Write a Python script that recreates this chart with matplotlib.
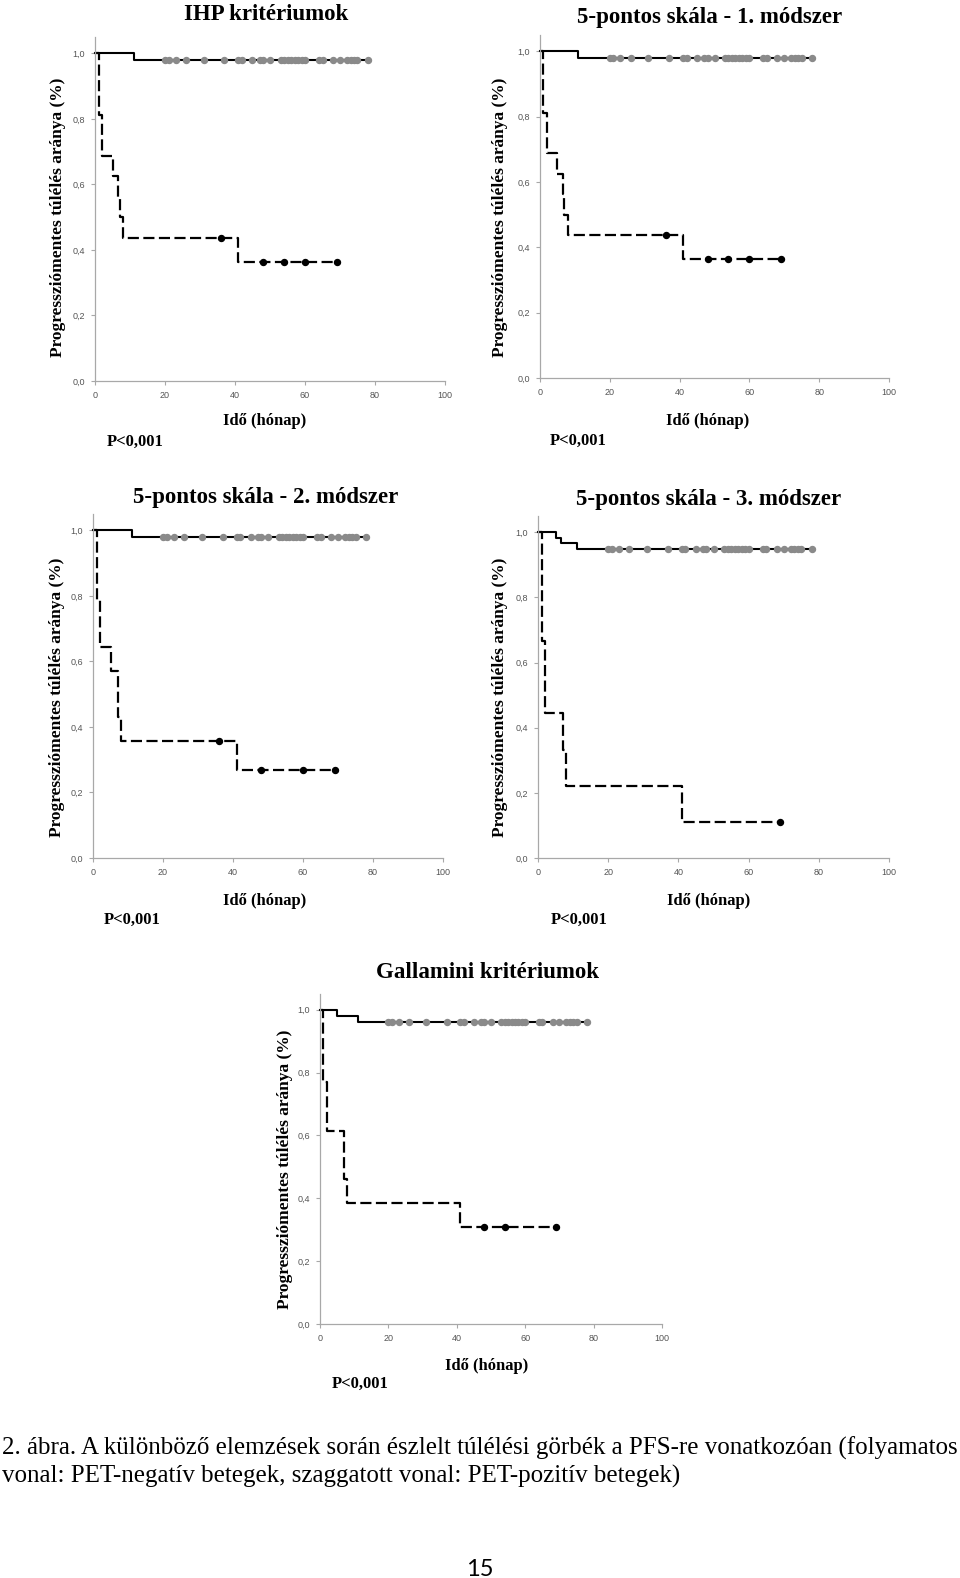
import matplotlib
matplotlib.use("Agg")
import matplotlib.pyplot as plt
import numpy as np

W, H = 960, 1578

x_ticks = [0, 20, 40, 60, 80, 100]
y_ticks = [0.0, 0.2, 0.4, 0.6, 0.8, 1.0]
y_ticklabels = ["0,0", "0,2", "0,4", "0,6", "0,8", "1,0"]

# censored times of PET-negative patients (gray circles), same in every panel
neg_censor = [20, 21, 23, 26, 31, 37, 41, 42, 45, 47, 48, 50, 53, 54, 55, 56,
              57, 58, 59, 60, 64, 65, 68, 70, 72, 73, 74, 75, 78]
neg_end = 78
pos_end = 69

# IHP kritériumok
ihp_neg_t = [0, 11]
ihp_neg_s = [1.0, 0.979]
ihp_pos_t = [0, 1, 2, 5, 6.5, 7, 8, 41]
ihp_pos_s = [1.0, 0.8125, 0.6875, 0.625, 0.5625, 0.5, 0.4375, 0.3646]
ihp_pos_cens = [36, 48, 54, 60, 69]

# 5-pontos skála - 1. módszer
m1_neg_t = [0, 11]
m1_neg_s = [1.0, 0.979]
m1_pos_t = [0, 1, 2, 5, 6.5, 7, 8, 41]
m1_pos_s = [1.0, 0.8125, 0.6875, 0.625, 0.5625, 0.5, 0.4375, 0.3646]
m1_pos_cens = [36, 48, 54, 60, 69]

# 5-pontos skála - 2. módszer
m2_neg_t = [0, 11]
m2_neg_s = [1.0, 0.979]
m2_pos_t = [0, 1, 2, 5, 7, 8, 41]
m2_pos_s = [1.0, 0.786, 0.643, 0.571, 0.429, 0.357, 0.268]
m2_pos_cens = [36, 48, 60, 69]

# 5-pontos skála - 3. módszer
m3_neg_t = [0, 5, 6.5, 11]
m3_neg_s = [1.0, 0.983, 0.966, 0.948]
m3_pos_t = [0, 1, 2, 7, 8, 41]
m3_pos_s = [1.0, 0.667, 0.444, 0.333, 0.222, 0.111]
m3_pos_cens = [69]

# Gallamini kritériumok
gal_neg_t = [0, 5, 11]
gal_neg_s = [1.0, 0.981, 0.962]
gal_pos_t = [0, 1, 2, 7, 8, 41]
gal_pos_s = [1.0, 0.769, 0.615, 0.462, 0.385, 0.308]
gal_pos_cens = [48, 54, 69]

titles = ["IHP kritériumok", "5-pontos skála - 1. módszer",
          "5-pontos skála - 2. módszer", "5-pontos skála - 3. módszer",
          "Gallamini kritériumok"]

panels = [
    (ihp_neg_t, ihp_neg_s, ihp_pos_t, ihp_pos_s, ihp_pos_cens),
    (m1_neg_t, m1_neg_s, m1_pos_t, m1_pos_s, m1_pos_cens),
    (m2_neg_t, m2_neg_s, m2_pos_t, m2_pos_s, m2_pos_cens),
    (m3_neg_t, m3_neg_s, m3_pos_t, m3_pos_s, m3_pos_cens),
    (gal_neg_t, gal_neg_s, gal_pos_t, gal_pos_s, gal_pos_cens),
]

# layout in pixels: axes box (x0, x1, y_top, y_zero), title, xlabel, ylabel, p-value centres
boxes = [(95, 445, 37, 381), (540, 889, 35, 378), (93, 443, 514, 858),
         (538, 889, 516, 858), (320, 662, 994, 1324)]
title_pos = [(266, 14), (710, 18), (266, 497), (709, 499), (488, 973)]
xlab_pos = [(265, 421), (708, 421), (265, 901), (709, 901), (487, 1366)]
ylab_pos = [(58, 217), (500, 217), (57, 697), (500, 697), (285, 1169)]
p_pos = [(135, 442), (578, 441), (132, 920), (579, 920), (360, 1384)]

axis_gray = "#a8a8a8"
serif = "Liberation Serif"


def level_at(t, s, x):
    i = np.searchsorted(t, x, side="right") - 1
    return np.array(s)[i]


def ftxt(x, y, s, **kw):
    fig.text(x / W, 1 - y / H, s, ha="center", va="center", **kw)


fig = plt.figure(figsize=(W / 100, H / 100), dpi=100)
fig.patch.set_facecolor("white")

for k, (nt, ns, pt, ps, pc) in enumerate(panels):
    x0, x1, yt, yz = boxes[k]
    ax = fig.add_axes([x0 / W, 1 - yz / H, (x1 - x0) / W, (yz - yt) / H])
    ax.set_xlim(0, 100)
    ax.set_ylim(0, 1.05)
    for sp in ["top", "right"]:
        ax.spines[sp].set_visible(False)
    for sp in ["left", "bottom"]:
        ax.spines[sp].set_color(axis_gray)
        ax.spines[sp].set_linewidth(0.9)
    ax.set_xticks(x_ticks)
    ax.set_yticks(y_ticks)
    ax.set_yticklabels(y_ticklabels)
    ax.tick_params(direction="out", length=3, width=0.8, color=axis_gray,
                   labelsize=6.5, labelcolor="#555555", pad=4)
    for lab in ax.get_xticklabels() + ax.get_yticklabels():
        lab.set_family("Liberation Sans")

    # PET-negative: solid line, gray censor marks
    ax.step(list(nt) + [neg_end], list(ns) + [ns[-1]], where="post",
            color="black", lw=1.5, zorder=2, clip_on=False)
    ax.plot(neg_censor, level_at(nt, ns, neg_censor), "o", color="#8a8a8a",
            ms=4.3, mec="#8a8a8a", zorder=3, clip_on=False)

    # PET-positive: dashed line, black censor marks
    ax.step(list(pt) + [pos_end], list(ps) + [ps[-1]], where="post",
            color="black", lw=1.6, ls=(0, (5, 2)), zorder=2, clip_on=False)
    ax.plot(pc, level_at(pt, ps, pc), "o", color="black", ms=4.3, zorder=3,
            clip_on=False)

    ftxt(*title_pos[k], titles[k], family=serif, weight="bold", fontsize=16.5)
    ftxt(*xlab_pos[k], "Idő (hónap)", family=serif, weight="bold", fontsize=12)
    ftxt(*ylab_pos[k], "Progressziómentes túlélés aránya (%)", family=serif,
         weight="bold", fontsize=12.5, rotation=90)
    ftxt(*p_pos[k], "P<0,001", family=serif, weight="bold", fontsize=12)

cap1 = ("2. ábra. A különböző elemzések során észlelt túlélési görbék a PFS-re "
        "vonatkozóan (folyamatos")
cap2 = "vonal: PET-negatív betegek, szaggatott vonal: PET-pozitív betegek)"
fig.text(2 / W, 1 - 1455 / H, cap1, ha="left", va="baseline", family=serif, fontsize=18)
fig.text(2 / W, 1 - 1483 / H, cap2, ha="left", va="baseline", family=serif, fontsize=18)
fig.text(480 / W, 1 - 1576 / H, "15", ha="center", va="baseline", family="Lato", fontsize=17)

fig.savefig("out.png", dpi=100)
